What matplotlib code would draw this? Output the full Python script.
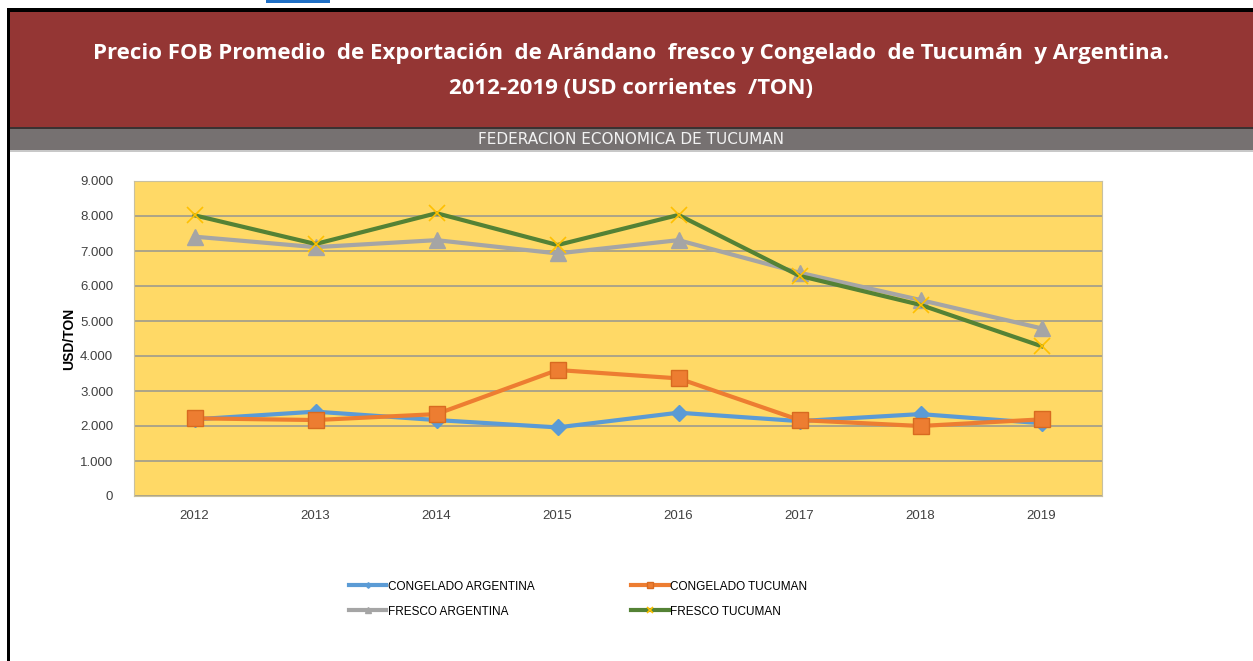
import matplotlib.pyplot as plt
from matplotlib.patches import Rectangle

plt.rcParams['font.family'] = ['Liberation Sans', 'DejaVu Sans']

years = ['2012', '2013', '2014', '2015', '2016', '2017', '2018', '2019']
congelado_argentina = [2190, 2410, 2170, 1960, 2380, 2140, 2340, 2080]
congelado_tucuman = [2220, 2170, 2340, 3600, 3360, 2170, 2000, 2190]
fresco_argentina = [7410, 7110, 7310, 6930, 7310, 6380, 5600, 4790]
fresco_tucuman = [8020, 7200, 8080, 7170, 8030, 6290, 5460, 4280]
yticks = [0, 1000, 2000, 3000, 4000, 5000, 6000, 7000, 8000, 9000]
ytick_labels = ['0', '1.000', '2.000', '3.000', '4.000', '5.000', '6.000', '7.000', '8.000', '9.000']

W, H = 1253, 661
fig = plt.figure(figsize=(W / 100, H / 100), dpi=100)
fig.patch.set_facecolor('white')


def box(x0, y0, x1, y1, color):
    # pixel coords (top-left origin) -> figure fraction
    fig.patches.append(Rectangle((x0 / W, 1 - y1 / H), (x1 - x0) / W, (y1 - y0) / H,
                                 transform=fig.transFigure, color=color, lw=0, zorder=0))


# header frame
box(266, 0, 330, 3, '#1F6FC5')
box(7, 8, W, 12, '#000000')
box(7, 8, 10, H, '#000000')
box(10, 12, W, 127, '#943634')
box(10, 127, W, 129, '#3A3232')
box(10, 129, W, 150, '#767171')
box(10, 150, W, 152, '#C8C8C8')

fig.text(631 / W, 1 - 53 / H, 'Precio FOB Promedio  de Exportación  de Arándano  fresco y Congelado  de Tucumán  y Argentina.',
         ha='center', va='center', color='white', fontsize=16, fontweight='bold', family='Open Sans')
fig.text(631 / W, 1 - 88 / H, '2012-2019 (USD corrientes  /TON)',
         ha='center', va='center', color='white', fontsize=16, fontweight='bold', family='Open Sans')
fig.text(631 / W, 1 - 140 / H, 'FEDERACION ECONOMICA DE TUCUMAN',
         ha='center', va='center', color='#F2F2F2', fontsize=11, family='DejaVu Sans')

ax = fig.add_axes([134 / W, 1 - 496 / H, (1102 - 134) / W, (496 - 181) / H])
ax.set_facecolor('#FFD966')
x = range(len(years))

l1, = ax.plot(x, congelado_argentina, color='#5B9BD5', lw=3, marker='D', ms=8,
              mfc='#5B9BD5', mec='#5B9BD5', label='CONGELADO ARGENTINA', zorder=3)
l2, = ax.plot(x, congelado_tucuman, color='#ED7D31', lw=3, marker='s', ms=11,
              mfc='#ED7D31', mec='#D86A20', label='CONGELADO TUCUMAN', zorder=4)
l3, = ax.plot(x, fresco_argentina, color='#A5A5A5', lw=3, marker='^', ms=11,
              mfc='#A5A5A5', mec='#A5A5A5', label='FRESCO ARGENTINA', zorder=3)
l4, = ax.plot(x, fresco_tucuman, color='#548235', lw=3, marker='x', ms=11, mew=1.2,
              mec='#FFC000', label='FRESCO TUCUMAN', zorder=4)

ax.set_xlim(-0.5, len(years) - 0.5)
ax.set_ylim(0, 9000)
ax.set_xticks(list(x))
ax.set_xticklabels(years)
ax.set_yticks(yticks)
ax.set_yticklabels(ytick_labels)
ax.tick_params(length=0, labelsize=9.5, colors='#404040', pad=10)
ax.tick_params(axis='y', pad=15)
ax.grid(axis='y', color='#A6A08A', lw=1.3, zorder=1)
ax.set_axisbelow(True)
for s in ax.spines.values():
    s.set_color('#C8C0A0')
    s.set_linewidth(0.8)
ax.set_ylabel('USD/TON', fontsize=10, fontweight='bold', labelpad=3)

leg = fig.legend([l1, l3, l2, l4],
                 ['CONGELADO ARGENTINA', 'FRESCO ARGENTINA', 'CONGELADO TUCUMAN', 'FRESCO TUCUMAN'],
                 loc='upper left', bbox_to_anchor=(338 / W, 1 - 570 / H), ncol=2, frameon=False,
                 prop={'size': 8.5},
                 handlelength=3.2, handletextpad=0.1, columnspacing=8.2, labelspacing=1.1,
                 markerscale=0.35)

fig.savefig('out.png', dpi=100)
